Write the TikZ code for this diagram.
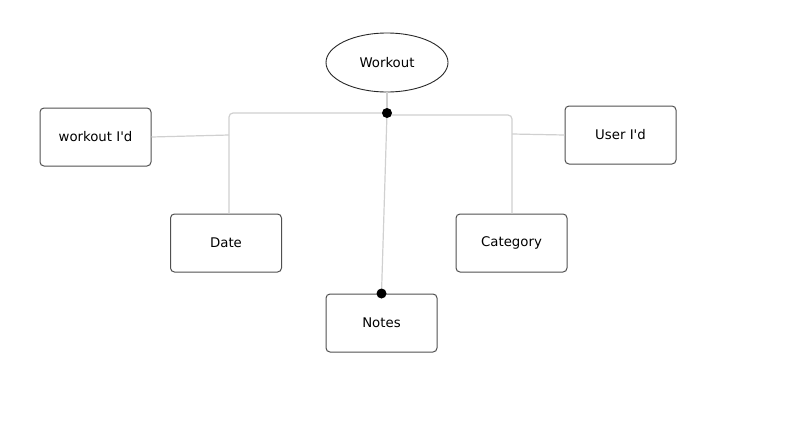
\documentclass[tikz,border=0pt]{standalone}
\usepackage{fontspec}
\setmainfont{DejaVu Sans}
\usetikzlibrary{shapes.geometric}
\definecolor{linkgray}{HTML}{D0D0D0}
\definecolor{boxgray}{HTML}{505050}

\begin{document}
\begin{tikzpicture}[x=1pt, y=-1pt, font=\fontsize{13.3}{15}\selectfont]
\tikzset{entity/.style = {shape=ellipse, draw=black!85, line width=0.9pt, minimum width=122pt, minimum height=59pt, inner sep=0pt}}
    \tikzset{attr/.style = {shape=rectangle, draw=boxgray, line width=1pt, rounded corners=4pt, minimum width=111pt, minimum height=58pt}}
    \tikzset{link/.style = {draw=linkgray, line width=1.2pt, -}}
    \tikzset{dot/.style = {shape=circle, fill=black, minimum size=10pt, inner sep=0pt}}
\useasboundingbox (0,0) rectangle (808,434);
% Define the entity and its attributes
\node[entity] (W) at (387,62.5){Workout};
\node[attr] (WID) at (95.5,137){workout I\textquotesingle d};
\node[attr] (D) at (226,243){Date};
\node[attr] (C) at (511.5,243){Category};
\node[attr] (UID) at (620.5,135){User I\textquotesingle d};
\node[attr] (N) at (381.5,323){Notes};
\coordinate (DL) at (229,135);
\coordinate (CR) at (512,134);

% Draw the connectors
\draw[link] (W.south) to (387,113) coordinate (J0);
\draw[link, rounded corners=4pt] (J0) -| (DL |- D.north);
\draw[link, rounded corners=4pt] (J0) -- ++(0,2) -| (CR |- C.north);
\draw[link] (WID.east) to (DL);
\draw[link] (UID.west) to (CR);
\draw[link] (J0) to (N.north);
\node[dot] (J) at (J0){};
\node[dot] (ND) at (N.north){};
\end{tikzpicture}
\end{document}
